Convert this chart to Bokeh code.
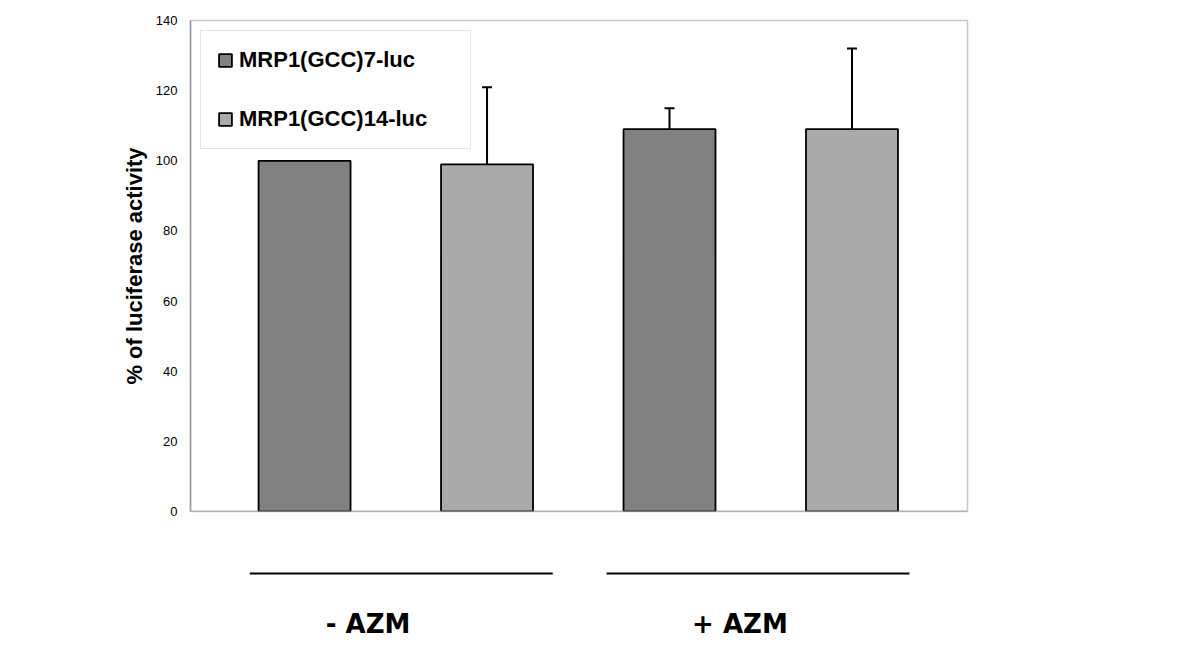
from bokeh.plotting import figure
from bokeh.models import (Range1d, FixedTicker, ColumnDataSource, Whisker, TeeHead,
                          Legend, LegendItem, Span)
from bokeh.layouts import column
from bokeh.core.properties import value
from bokeh.embed import file_html
from bokeh.resources import INLINE

# ---------------- data ----------------
groups = ["- AZM", "+ AZM"]
series = ["MRP1(GCC)7-luc", "MRP1(GCC)14-luc"]
vals_7 = [100, 109]
vals_14 = [99, 109]
err_7 = [0, 6]
err_14 = [22, 23]
y_ticks = [0, 20, 40, 60, 80, 100, 120, 140]
y_label = "% of luciferase activity"

# ---------------- styles ----------------
colors = ["#818181", "#aaaaaa"]
BAR_W = 0.504
FONT = "Liberation Sans"

# bar positions: two bars per group, equally spaced
def xpos(gi, si):
    return gi * 2 + si + 1

series_vals = [vals_7, vals_14]
series_errs = [err_7, err_14]

x_range = Range1d(0.375, 4.633)

p = figure(width=1184, height=519, x_range=x_range, y_range=Range1d(0, 140),
           output_backend="svg", toolbar_location=None,
           min_border_left=190, min_border_right=217, min_border_top=20, min_border_bottom=8)
p.xaxis.visible = False
p.xgrid.visible = False
p.ygrid.visible = False
p.outline_line_color = "#c8c8c8"
p.outline_line_width = 1.5

ya = p.yaxis[0]
ya.ticker = FixedTicker(ticks=y_ticks)
ya.axis_line_color = "#9a9a9a"
ya.axis_line_width = 1.5
ya.major_tick_line_color = None
ya.minor_tick_line_color = None
ya.major_label_standoff = 7
ya.major_label_text_font = FONT
ya.major_label_text_font_size = "13px"
ya.major_label_text_color = "black"
ya.axis_label = y_label
ya.axis_label_text_font = FONT
ya.axis_label_text_font_size = "22px"
ya.axis_label_text_font_style = "bold"
ya.axis_label_text_color = "black"
ya.axis_label_standoff = 6

p.add_layout(Span(location=0, dimension="width", line_color="#9a9a9a", line_width=1.5))

renderers = []
wx, wlo, whi = [], [], []
for si, name in enumerate(series):
    xs = [xpos(gi, si) for gi in range(len(groups))]
    src = ColumnDataSource(dict(x=xs, top=series_vals[si]))
    r = p.vbar(x="x", top="top", width=BAR_W, bottom=0, source=src,
               fill_color=colors[si], line_color="black", line_width=1.8)
    renderers.append(r)
    for gi in range(len(groups)):
        e = series_errs[si][gi]
        if e > 0:
            wx.append(xs[gi])
            wlo.append(series_vals[si][gi])
            whi.append(series_vals[si][gi] + e)

wsrc = ColumnDataSource(dict(base=wx, lower=wlo, upper=whi))
p.add_layout(Whisker(base="base", lower="lower", upper="upper", source=wsrc,
                     dimension="height", line_color="black", line_width=2,
                     upper_head=TeeHead(size=10, line_width=2, line_color="black"),
                     lower_head=None))

legend = Legend(items=[LegendItem(label=series[i], renderers=[renderers[i]]) for i in range(2)],
                location="top_left", margin=10, padding=16, spacing=33,
                glyph_width=16, glyph_height=16, label_standoff=6, label_width=215,
                label_text_font=FONT, label_text_font_style="bold",
                label_text_font_size="22px", label_text_color="black",
                border_line_color="#c8c8c8", border_line_width=1.5,
                background_fill_color="white", background_fill_alpha=1.0)
p.add_layout(legend)

# ---------------- group annotation strip ----------------
q = figure(width=1184, height=125, x_range=x_range, y_range=Range1d(125, 0),
           output_backend="svg", toolbar_location=None,
           min_border_left=190, min_border_right=217, min_border_top=0, min_border_bottom=0)
q.axis.visible = False
q.grid.visible = False
q.outline_line_color = None

centers = [(xpos(gi, 0) + xpos(gi, 1)) / 2 for gi in range(len(groups))]
HALF = 0.83
LINE_DX = [0.03, -0.015]
LINE_Y = 54
LABEL_Y = 104
LABEL_DX = [-0.152, -0.114]
q.segment(x0=[c - HALF + d for c, d in zip(centers, LINE_DX)],
          x1=[c + HALF + d for c, d in zip(centers, LINE_DX)],
          y0=[LINE_Y] * len(centers), y1=[LINE_Y] * len(centers),
          line_color="black", line_width=2)
q.text(x=[c + d for c, d in zip(centers, LABEL_DX)], y=[LABEL_Y] * len(centers), text=groups,
       text_align="center", text_baseline="middle", text_font=value("DejaVu Sans"),
       text_font_style="bold", text_font_size="26px", text_color="black")

layout = column(p, q, spacing=0)
open("out.html", "w").write(file_html(layout, INLINE))
